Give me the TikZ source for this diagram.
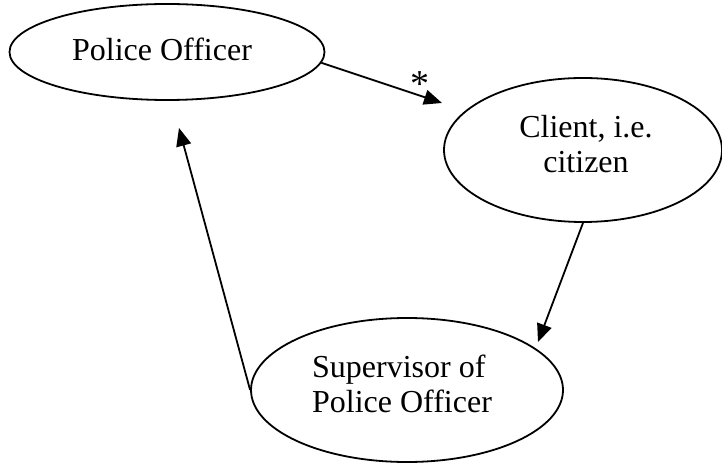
\documentclass[tikz,border=0pt]{standalone}
\usepackage{fontspec}
\setmainfont{Liberation Serif}
\usetikzlibrary{shapes.geometric,arrows.meta}

\begin{document}
\begin{tikzpicture}[x=0.5pt,y=-0.5pt,>={Triangle[length=9pt,width=7.5pt]},font=\fontsize{16}{17.5}\selectfont]
    \tikzstyle{actor} = [draw, shape=ellipse, line width=0.9pt, inner sep=0pt]
    \tikzstyle{caption} = [align=left, inner sep=0pt]
    \useasboundingbox (0,0) rectangle (722,464);
    %Creating Ellipses and Arrow Ends
    \node [actor, minimum width=157.5pt, minimum height=48pt] (officer) at (167,52) {};
    \node [actor, minimum width=139pt, minimum height=72pt] (client) at (583,150) {};
    \node [actor, minimum width=156pt, minimum height=72pt] (supervisor) at (407,390) {};
    \node [caption] (officer_text) at ([shift={(-5,-3)}]officer) {Police Officer};
    \node [caption, align=center] (client_text) at ([shift={(3,-6)}]client) {Client, i.e.\\citizen};
    \node [caption] (supervisor_text) at ([shift={(-5,-6)}]supervisor) {Supervisor of\\Police Officer};
    \coordinate (client_tip) at (442,103);
    \coordinate (supervisor_tip) at (538,342);
    \coordinate (officer_tip) at (179,128);
    %Conecting Ellipses
    \begin{scope}[line width=0.9pt]
        \draw[->] (officer.-4) -- (client_tip) node[pos=0.82, above=-4pt, font=\fontsize{19}{20}\selectfont] {*};
        \draw[->] (client.south) -- (supervisor_tip);
        \draw[->] (supervisor.west) -- (officer_tip);
    \end{scope}
\end{tikzpicture}
\end{document}
